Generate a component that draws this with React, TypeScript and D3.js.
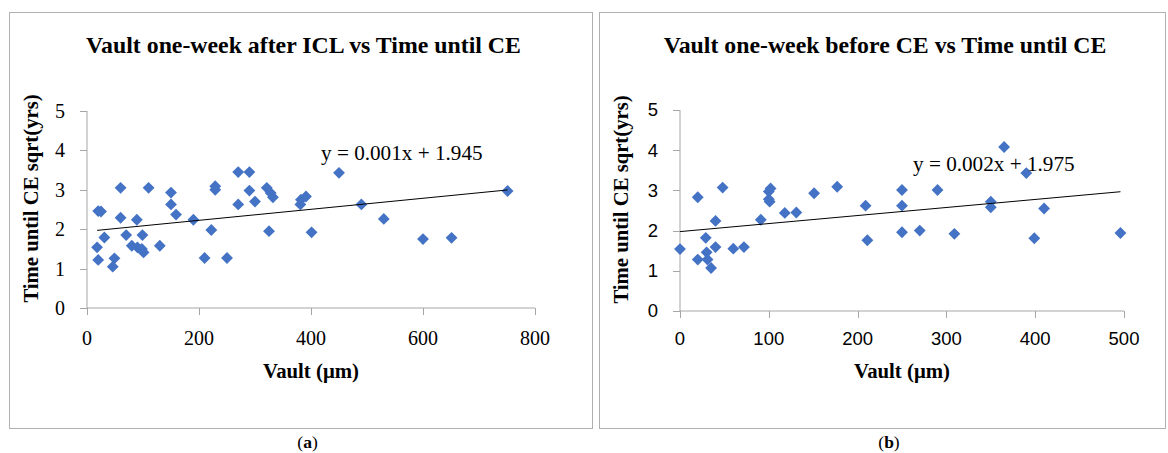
import * as d3 from "d3";

// Panel (a): vault one week after ICL
const vaultAfterICL = [
  18, 20, 20, 25, 31, 46, 49, 60, 60, 70, 80, 89, 90, 98, 99, 101, 110, 130,
  150, 150, 159, 190, 210, 222, 229, 229, 250, 270, 270, 290, 290, 300, 321,
  325, 328, 332, 381, 382, 391, 401, 450, 490, 530, 600, 651, 751,
];
const timeA = [
  1.54, 1.22, 2.46, 2.45, 1.79, 1.05, 1.26, 3.05, 2.29, 1.85, 1.58, 2.24, 1.54,
  1.5, 1.85, 1.41, 3.05, 1.58, 2.93, 2.63, 2.37, 2.24, 1.27, 1.98, 3.09, 3.0,
  1.27, 3.45, 2.63, 3.45, 2.98, 2.7, 3.05, 1.95, 2.92, 2.81, 2.63, 2.75, 2.83,
  1.92, 3.43, 2.63, 2.26, 1.75, 1.78, 2.97,
];

// Panel (b): vault one week before CE
const vaultBeforeCE = [
  0, 20, 20, 29, 30, 31, 35, 40, 40, 48, 60, 72, 91, 100, 100, 101, 102, 118,
  131, 151, 177, 209, 211, 250, 250, 250, 270, 290, 309, 350, 350, 365, 390,
  399, 410, 496,
];
const timeB = [
  1.54, 1.28, 2.83, 1.82, 1.46, 1.28, 1.07, 1.59, 2.24, 3.07, 1.55, 1.59, 2.27,
  2.78, 2.97, 2.72, 3.05, 2.44, 2.45, 2.93, 3.09, 2.62, 1.76, 3.01, 2.62, 1.96,
  2.0, 3.01, 1.92, 2.72, 2.58, 4.08, 3.43, 1.81, 2.55, 1.94,
];

const titles = [
  "Vault one-week after ICL vs Time until CE",
  "Vault one-week before CE vs Time until CE",
];
const equations = ["y = 0.001x + 1.945", "y = 0.002x + 1.975"];
const trendSlopes = [0.0014, 0.002];
const trendIntercepts = [1.945, 1.975];
const xTicksA = [0, 200, 400, 600, 800];
const xTicksB = [0, 100, 200, 300, 400, 500];
const yTicks = [0, 1, 2, 3, 4, 5];

const SERIF = "'Liberation Serif', 'DejaVu Serif', serif";
const SANS = "'Liberation Sans', Arial, sans-serif";
const BLUE = "#4472C4";
const AXIS = "#a6a6a6";

type PanelProps = {
  box: [number, number, number, number];
  plot: [number, number, number, number]; // left, right, top, bottom
  xs: number[];
  ys: number[];
  xMax: number;
  xTicks: number[];
  tickFont: string;
  tickSize: number;
  title: string;
  equation: string;
  eqPos: [number, number];
  slope: number;
  intercept: number;
  tag: string;
};

function Panel(p: PanelProps) {
  const [bx, by, bw, bh] = p.box;
  const [left, right, top, bottom] = p.plot;
  const x = d3.scaleLinear().domain([0, p.xMax]).range([left, right]);
  const y = d3.scaleLinear().domain([0, 5]).range([bottom, top]);
  const diamond = d3.symbol().type(d3.symbolSquare).size(70)()!;
  const x0 = d3.min(p.xs)!;
  const x1 = d3.max(p.xs)!;
  const line = d3
    .line<number>()
    .x((v) => x(v))
    .y((v) => y(p.intercept + p.slope * v));
  const cx = bx + bw / 2;

  return (
    <g>
      <rect x={bx + 0.5} y={by + 0.5} width={bw} height={bh} fill="white" stroke="#b0b0b0" />
      <text x={cx + 3} y={53} textAnchor="middle" fontFamily={SERIF} fontWeight="bold" fontSize={23.8}>
        {p.title}
      </text>

      {/* axes */}
      <line x1={left} x2={left} y1={top} y2={bottom} stroke={AXIS} />
      <line x1={left} x2={right} y1={bottom} y2={bottom} stroke={AXIS} />
      {yTicks.map((t) => (
        <g key={"y" + t}>
          <line x1={left - 7} x2={left} y1={Math.round(y(t)) + 0.5} y2={Math.round(y(t)) + 0.5} stroke={AXIS} />
          <text
            x={left - 22}
            y={y(t)}
            dy="0.35em"
            textAnchor="end"
            fontFamily={p.tickFont}
            fontSize={p.tickSize}
          >
            {t}
          </text>
        </g>
      ))}
      {p.xTicks.map((t) => (
        <g key={"x" + t}>
          <line x1={Math.round(x(t)) + 0.5} x2={Math.round(x(t)) + 0.5} y1={bottom} y2={bottom + 7} stroke={AXIS} />
          <text x={x(t)} y={345} textAnchor="middle" fontFamily={p.tickFont} fontSize={p.tickSize}>
            {t}
          </text>
        </g>
      ))}

      {/* axis titles */}
      <text x={x(p.xMax / 2)} y={378} textAnchor="middle" fontFamily={SERIF} fontWeight="bold" fontSize={20.8}>
        Vault (μm)
      </text>
      <text
        transform={`translate(${bx + 29},${(top + bottom) / 2 - 11}) rotate(-90)`}
        textAnchor="middle"
        fontFamily={SERIF}
        fontWeight="bold"
        fontSize={20.7}
      >
        Time until CE sqrt(yrs)
      </text>

      {/* points */}
      {p.xs.map((v, i) => (
        <path
          key={i}
          d={diamond}
          transform={`translate(${x(v)},${y(p.ys[i])}) rotate(45)`}
          fill={BLUE}
        />
      ))}

      {/* trend line */}
      <path d={line([x0, x1])!} stroke="black" strokeWidth={1} fill="none" />
      <text x={p.eqPos[0]} y={p.eqPos[1]} fontFamily={SERIF} fontSize={21.2}>
        {p.equation}
      </text>

      <text x={cx + 7} y={448} textAnchor="middle" fontFamily={SERIF} fontSize={17.5}>
        (<tspan fontWeight="bold">{p.tag}</tspan>)
      </text>
    </g>
  );
}

export default function App() {
  return (
    <svg
      width={1168}
      height={453}
      style={{ position: "absolute", left: 0, top: 0, background: "white" }}
    >
      <Panel
        box={[9, 12, 583, 416]}
        plot={[87, 535, 111, 308]}
        xs={vaultAfterICL}
        ys={timeA}
        xMax={800}
        xTicks={xTicksA}
        tickFont={SERIF}
        tickSize={20}
        title={titles[0]}
        equation={equations[0]}
        eqPos={[321, 160]}
        slope={trendSlopes[0]}
        intercept={trendIntercepts[0]}
        tag="a"
      />
      <Panel
        box={[599, 12, 566, 416]}
        plot={[680, 1124, 110, 311]}
        xs={vaultBeforeCE}
        ys={timeB}
        xMax={500}
        xTicks={xTicksB}
        tickFont={SANS}
        tickSize={18.5}
        title={titles[1]}
        equation={equations[1]}
        eqPos={[913, 171]}
        slope={trendSlopes[1]}
        intercept={trendIntercepts[1]}
        tag="b"
      />
    </svg>
  );
}
